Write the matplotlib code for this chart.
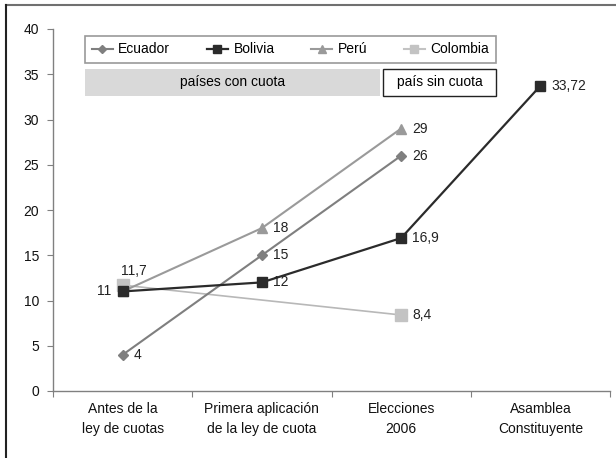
import matplotlib
matplotlib.use("Agg")
import matplotlib.pyplot as plt
from matplotlib.lines import Line2D
from matplotlib.patches import Rectangle
import matplotlib.font_manager as fm

names = {f.name for f in fm.fontManager.ttflist}
fam = 'Liberation Sans Narrow' if 'Liberation Sans Narrow' in names else 'Liberation Sans'
plt.rcParams['font.family'] = [fam, 'DejaVu Sans']

categories = ["Antes de la\nley de cuotas", "Primera aplicación\nde la ley de cuota",
              "Elecciones\n2006", "Asamblea\nConstituyente"]
ecuador_x = [0, 1, 2]
ecuador_y = [4, 15, 26]
bolivia_x = [0, 1, 2, 3]
bolivia_y = [11, 12, 16.9, 33.72]
peru_x = [0, 1, 2]
peru_y = [11, 18, 29]
colombia_x = [0, 2]
colombia_y = [11.7, 8.4]
yticks = [0, 5, 10, 15, 20, 25, 30, 35, 40]

fig = plt.figure(figsize=(6.16, 4.58), dpi=100)
ax = fig.add_axes([53/616, 1-391/458, (610-53)/616, (391-29)/458])

c_ec, c_bo, c_pe, c_co = '#7f7f7f', '#2b2b2b', '#9a9a9a', '#c3c3c3'
ax.plot(colombia_x, colombia_y, color='#b8b8b8', lw=1.2, marker='s', ms=8,
        mfc=c_co, mec=c_co, zorder=2)
ax.plot(peru_x, peru_y, color=c_pe, lw=1.5, marker='^', ms=7, mfc=c_pe, mec=c_pe, zorder=3)
ax.plot(ecuador_x, ecuador_y, color=c_ec, lw=1.5, marker='D', ms=5, mfc=c_ec, mec=c_ec, zorder=4)
ax.plot(bolivia_x, bolivia_y, color=c_bo, lw=1.6, marker='s', ms=7, mfc=c_bo, mec=c_bo, zorder=5)

fs = 10
def lab(x, y, s, dx=0.08, dy=0.0, ha='left'):
    ax.text(x + dx, y + dy, s, fontsize=fs, ha=ha, va='center', color='#222222', zorder=6)

lab(ecuador_x[0], ecuador_y[0], "4")
lab(ecuador_x[1], ecuador_y[1], "15")
lab(ecuador_x[2], ecuador_y[2], "26")
lab(bolivia_x[0], bolivia_y[0], "11", dx=-0.08, ha='right')
lab(bolivia_x[1], bolivia_y[1], "12")
lab(bolivia_x[2], bolivia_y[2], "16,9")
lab(bolivia_x[3], bolivia_y[3], "33,72")
lab(peru_x[1], peru_y[1], "18")
lab(peru_x[2], peru_y[2], "29")
lab(colombia_x[0], colombia_y[0], "11,7", dx=0.08, dy=1.6, ha='center')
lab(colombia_x[1], colombia_y[1], "8,4")

ax.set_xlim(-0.5, 3.5)
ax.set_ylim(0, 40)
ax.set_yticks(yticks)
ax.set_yticklabels([str(v) for v in yticks], fontsize=fs, color='#111111')
ax.set_xticks([-0.5, 0.5, 1.5, 2.5, 3.5])
ax.set_xticklabels([])
ax.set_xticks(range(len(categories)), minor=True)
ax.set_xticklabels(categories, minor=True, fontsize=fs, linespacing=1.5, color='#111111')
ax.tick_params(axis='x', which='minor', length=0, pad=8)
ax.tick_params(axis='x', which='major', length=4, color='#808080', direction='out')
ax.tick_params(axis='y', length=4, color='#808080', pad=6)
for s in ['top', 'right']:
    ax.spines[s].set_visible(False)
for s in ['left', 'bottom']:
    ax.spines[s].set_color('#808080')
    ax.spines[s].set_linewidth(1.0)

# legend
handles = [
    Line2D([], [], color=c_ec, lw=1.5, marker='D', ms=4, mfc=c_ec, mec=c_ec),
    Line2D([], [], color=c_bo, lw=1.6, marker='s', ms=6, mfc=c_bo, mec=c_bo),
    Line2D([], [], color=c_pe, lw=1.5, marker='^', ms=6, mfc=c_pe, mec=c_pe),
    Line2D([], [], color=c_co, lw=1.5, marker='s', ms=6, mfc=c_co, mec=c_co),
]
leg = ax.legend(handles, ["Ecuador", "Bolivia", "Perú", "Colombia"], ncol=4,
                loc='lower left', bbox_to_anchor=(-0.27, 36.2, 2.95, 3.2),
                bbox_transform=ax.transData, mode='expand', fontsize=fs,
                frameon=True, fancybox=False, borderaxespad=0, handlelength=1.5,
                handletextpad=0.4, borderpad=0.5)
leg.get_frame().set_edgecolor('#808080')
leg.get_frame().set_linewidth(1.2)

ax.add_patch(Rectangle((-0.27, 32.6), 1.85 + 0.27, 3.0, facecolor='#d9d9d9',
                       edgecolor='none', zorder=1))
ax.text((-0.27 + 1.85) / 2, 34.1, "países con cuota", ha='center', va='center', fontsize=fs)
ax.add_patch(Rectangle((1.87, 32.6), 2.68 - 1.87, 3.0, facecolor='white',
                       edgecolor='#222222', lw=1.0, zorder=1))
ax.text((1.87 + 2.68) / 2, 34.1, "país sin cuota", ha='center', va='center', fontsize=fs)

# outer frame
fig.add_artist(Line2D([6/616, 1.0], [1-5/458, 1-5/458], transform=fig.transFigure,
                      color='#707070', lw=1.5))
fig.add_artist(Line2D([6/616, 6/616], [0, 1-5/458], transform=fig.transFigure,
                      color='#222222', lw=1.5))

fig.savefig("out.png", dpi=100)
